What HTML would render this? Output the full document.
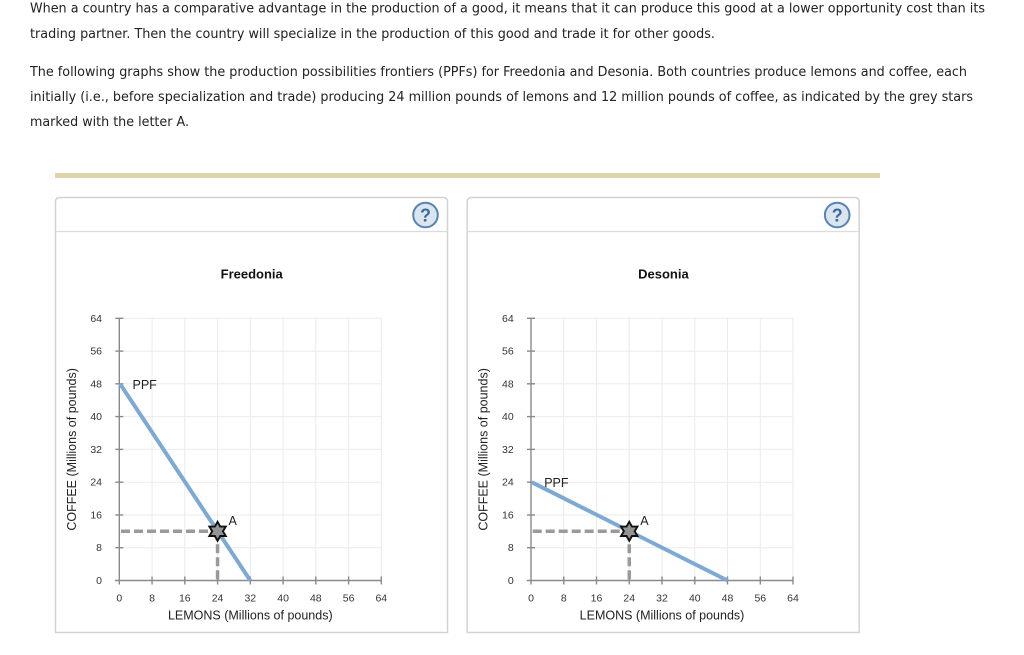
<!DOCTYPE html>
<html><head><meta charset="utf-8"><style>
html,body{margin:0;padding:0;background:#fff;width:1024px;height:655px;overflow:hidden}
svg{display:block}
.t{font-family:"DejaVu Sans","Liberation Sans",sans-serif;font-size:13px;fill:#222}
.tk{font-family:"Liberation Sans",Arial,sans-serif;font-size:10.5px;fill:#333}
.ax{font-family:"Liberation Sans",Arial,sans-serif;font-size:12.5px;fill:#222}
.ti{font-family:"Liberation Sans",Arial,sans-serif;font-size:13px;font-weight:bold;fill:#111}
</style></head><body>
<svg width="1024" height="655" viewBox="0 0 1024 655" xmlns="http://www.w3.org/2000/svg">
<text class="t" x="30" y="12.5" textLength="955" lengthAdjust="spacingAndGlyphs">When a country has a comparative advantage in the production of a good, it means that it can produce this good at a lower opportunity cost than its</text>
<text class="t" x="30" y="38" textLength="685" lengthAdjust="spacingAndGlyphs">trading partner. Then the country will specialize in the production of this good and trade it for other goods.</text>
<text class="t" x="30" y="76" textLength="937" lengthAdjust="spacingAndGlyphs">The following graphs show the production possibilities frontiers (PPFs) for Freedonia and Desonia. Both countries produce lemons and coffee, each</text>
<text class="t" x="30" y="101" textLength="943" lengthAdjust="spacingAndGlyphs">initially (i.e., before specialization and trade) producing 24 million pounds of lemons and 12 million pounds of coffee, as indicated by the grey stars</text>
<text class="t" x="30" y="126" textLength="159" lengthAdjust="spacingAndGlyphs">marked with the letter A.</text>

<rect x="55" y="173" width="825" height="5" fill="#ddd4ab"/>

<defs>
<g id="panel">
  <path d="M55.5,632.5 V202 Q55.5,197.5 60,197.5 H443 Q447.5,197.5 447.5,202 V632.5 Z" fill="#fff" stroke="#d2d2d2" stroke-width="1.5"/>
  <line x1="55.5" y1="231.5" x2="447.5" y2="231.5" stroke="#dcdcdc" stroke-width="1.2"/>
  <circle cx="425.5" cy="215" r="12.3" fill="#dae5f0" stroke="#5584b5" stroke-width="2"/>
  <text x="425.5" y="221.5" text-anchor="middle" font-family="Liberation Sans,Arial,sans-serif" font-size="18" font-weight="bold" fill="#3a6a9c">?</text>
  <g stroke="#ebebeb" stroke-width="1">
    <line x1="152.05" y1="318.3" x2="152.05" y2="580.5"/>
    <line x1="184.8" y1="318.3" x2="184.8" y2="580.5"/>
    <line x1="217.56" y1="318.3" x2="217.56" y2="580.5"/>
    <line x1="250.3" y1="318.3" x2="250.3" y2="580.5"/>
    <line x1="283.1" y1="318.3" x2="283.1" y2="580.5"/>
    <line x1="315.8" y1="318.3" x2="315.8" y2="580.5"/>
    <line x1="348.6" y1="318.3" x2="348.6" y2="580.5"/>
    <line x1="381.3" y1="318.3" x2="381.3" y2="580.5"/>
    <line x1="119.3" y1="547.7" x2="381.3" y2="547.7"/>
    <line x1="119.3" y1="515.0" x2="381.3" y2="515.0"/>
    <line x1="119.3" y1="482.2" x2="381.3" y2="482.2"/>
    <line x1="119.3" y1="449.4" x2="381.3" y2="449.4"/>
    <line x1="119.3" y1="416.6" x2="381.3" y2="416.6"/>
    <line x1="119.3" y1="383.8" x2="381.3" y2="383.8"/>
    <line x1="119.3" y1="351.1" x2="381.3" y2="351.1"/>
    <line x1="119.3" y1="318.3" x2="381.3" y2="318.3"/>
  </g>
  <g stroke="#8a8a8a" stroke-width="1.4">
    <line x1="119.3" y1="318.3" x2="119.3" y2="584.5"/>
    <line x1="115" y1="580.5" x2="381.3" y2="580.5"/>
    <line x1="115.3" y1="547.7" x2="123.3" y2="547.7"/>
    <line x1="115.3" y1="515.0" x2="123.3" y2="515.0"/>
    <line x1="115.3" y1="482.2" x2="123.3" y2="482.2"/>
    <line x1="115.3" y1="449.4" x2="123.3" y2="449.4"/>
    <line x1="115.3" y1="416.6" x2="123.3" y2="416.6"/>
    <line x1="115.3" y1="383.8" x2="123.3" y2="383.8"/>
    <line x1="115.3" y1="351.1" x2="123.3" y2="351.1"/>
    <line x1="115.3" y1="318.3" x2="123.3" y2="318.3"/>
    <line x1="152.05" y1="576.5" x2="152.05" y2="584.5"/>
    <line x1="184.8" y1="576.5" x2="184.8" y2="584.5"/>
    <line x1="217.56" y1="576.5" x2="217.56" y2="584.5"/>
    <line x1="250.3" y1="576.5" x2="250.3" y2="584.5"/>
    <line x1="283.1" y1="576.5" x2="283.1" y2="584.5"/>
    <line x1="315.8" y1="576.5" x2="315.8" y2="584.5"/>
    <line x1="348.6" y1="576.5" x2="348.6" y2="584.5"/>
    <line x1="381.3" y1="576.5" x2="381.3" y2="584.5"/>
  </g>
  <g class="tk" text-anchor="end">
    <text x="102" y="584">0</text>
    <text x="102" y="551.2">8</text>
    <text x="102" y="518.5">16</text>
    <text x="102" y="485.7">24</text>
    <text x="102" y="452.9">32</text>
    <text x="102" y="420.1">40</text>
    <text x="102" y="387.3">48</text>
    <text x="102" y="354.6">56</text>
    <text x="102" y="321.8">64</text>
  </g>
  <g class="tk" text-anchor="middle">
    <text x="119.3" y="601.5">0</text>
    <text x="152.05" y="601.5">8</text>
    <text x="184.8" y="601.5">16</text>
    <text x="217.56" y="601.5">24</text>
    <text x="250.3" y="601.5">32</text>
    <text x="283.1" y="601.5">40</text>
    <text x="315.8" y="601.5">48</text>
    <text x="348.6" y="601.5">56</text>
    <text x="381.3" y="601.5">64</text>
  </g>
  <text class="ax" x="250.3" y="619.5" text-anchor="middle">LEMONS (Millions of pounds)</text>
  <text class="ax" transform="translate(76,449.4) rotate(-90)" text-anchor="middle">COFFEE (Millions of pounds)</text>
</g>
<polygon id="star" points="0,-9.5 2.7,-4.7 8.2,-4.7 5.4,0 8.2,4.7 2.7,4.7 0,9.5 -2.7,4.7 -8.2,4.7 -5.4,0 -8.2,-4.7 -2.7,-4.7" fill="#949494" stroke="#111" stroke-width="1.9" stroke-linejoin="miter"/>
</defs>

<!-- Freedonia -->
<use href="#panel"/>
<text class="ti" x="251.7" y="278.5" text-anchor="middle">Freedonia</text>
<g stroke="#9a9a9a" stroke-width="3.5" stroke-dasharray="9,4" fill="none">
  <line x1="121" y1="531.3" x2="217.56" y2="531.3"/>
  <line x1="217.56" y1="531.3" x2="217.56" y2="580"/>
</g>
<line x1="120" y1="383.8" x2="250.3" y2="580.5" stroke="#7ea9d6" stroke-width="4"/>
<text class="ax" x="132.5" y="389">PPF</text>
<use href="#star" x="217.56" y="531.3"/>
<text class="ax" x="228.5" y="525">A</text>

<!-- Desonia -->
<g transform="translate(411.7,0)">
<use href="#panel"/>
<text class="ti" x="251.7" y="278.5" text-anchor="middle">Desonia</text>
<g stroke="#9a9a9a" stroke-width="3.5" stroke-dasharray="9,4" fill="none">
  <line x1="121" y1="531.3" x2="217.56" y2="531.3"/>
  <line x1="217.56" y1="531.3" x2="217.56" y2="580"/>
</g>
<line x1="120" y1="482.2" x2="315.8" y2="580.5" stroke="#7ea9d6" stroke-width="4"/>
<text class="ax" x="132.5" y="487">PPF</text>
<use href="#star" x="217.56" y="531.3"/>
<text class="ax" x="228.5" y="525">A</text>
</g>
</svg>
</body></html>
